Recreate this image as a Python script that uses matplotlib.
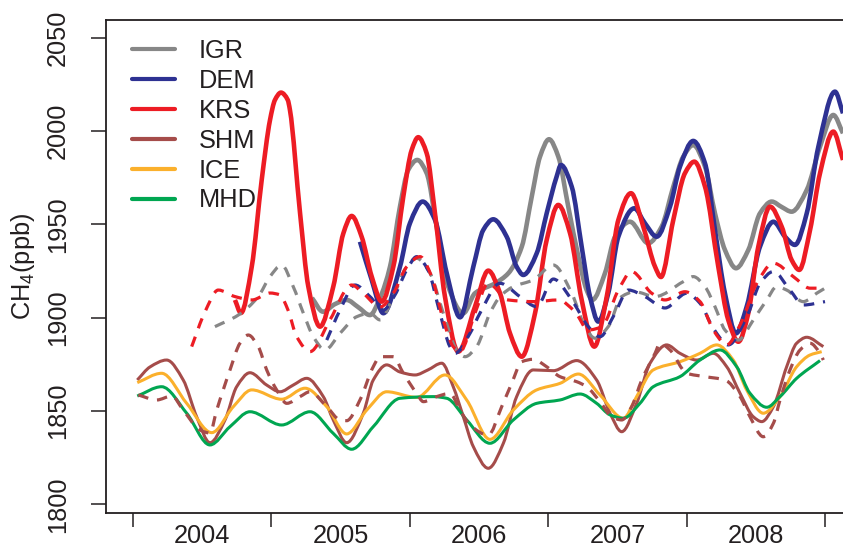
import matplotlib
matplotlib.use("Agg")
import matplotlib.pyplot as plt
from matplotlib.path import Path
from matplotlib.patches import PathPatch
from matplotlib.lines import Line2D

plt.rcParams['font.family'] = ['Liberation Sans', 'DejaVu Sans']
plt.rcParams['mathtext.fontset'] = 'custom'
plt.rcParams['mathtext.rm'] = 'Liberation Sans'
plt.rcParams['mathtext.it'] = 'Liberation Sans:italic'

# ---------------- data (decimal year, CH4 ppb) ----------------
igr_t = [2005.293, 2005.373, 2005.460, 2005.544, 2005.626, 2005.712, 2005.785, 2005.857, 2005.929, 2005.989,
         2006.054, 2006.122, 2006.194, 2006.278, 2006.387, 2006.471, 2006.616, 2006.712, 2006.809, 2006.881,
         2006.941, 2007.006, 2007.073, 2007.145, 2007.218, 2007.278, 2007.319, 2007.410, 2007.483, 2007.591,
         2007.723, 2007.820, 2007.904, 2007.976, 2008.048, 2008.133, 2008.205, 2008.277, 2008.357, 2008.446,
         2008.530, 2008.615, 2008.687, 2008.759, 2008.868, 2008.964, 2009.060, 2009.130]
igr_v = [1910.6, 1903.2, 1907.3, 1909.5, 1905.7, 1901.4, 1910.6, 1927.3, 1959.5, 1979.2,
         1984.5, 1977.4, 1948.8, 1916.6, 1902.4, 1913.1, 1918.4, 1923.8, 1938.0, 1964.8,
         1986.3, 1995.6, 1986.3, 1959.5, 1932.7, 1914.8, 1909.5, 1923.8, 1943.4, 1951.4,
         1939.9, 1948.8, 1970.2, 1986.3, 1992.5, 1980.9, 1955.9, 1936.3, 1926.5, 1936.3,
         1955.9, 1962.2, 1959.3, 1956.8, 1968.4, 1991.6, 2008.6, 1998.8]

dem_t = [2005.640, 2005.725, 2005.809, 2005.929, 2006.001, 2006.093, 2006.182, 2006.267, 2006.363, 2006.459,
         2006.531, 2006.603, 2006.700, 2006.772, 2006.820, 2006.917, 2006.989, 2007.061, 2007.092, 2007.170,
         2007.242, 2007.302, 2007.362, 2007.434, 2007.507, 2007.622, 2007.699, 2007.784, 2007.880, 2007.952,
         2008.048, 2008.133, 2008.205, 2008.277, 2008.357, 2008.434, 2008.530, 2008.627, 2008.711, 2008.783,
         2008.868, 2008.952, 2009.072, 2009.130]
dem_v = [1940.7, 1920.2, 1902.4, 1927.3, 1950.6, 1962.2, 1952.4, 1923.8, 1900.2, 1927.3,
         1947.0, 1952.7, 1943.4, 1927.3, 1922.9, 1934.5, 1955.9, 1975.6, 1981.8, 1970.2,
         1938.0, 1911.3, 1897.9, 1913.1, 1943.4, 1958.6, 1950.6, 1943.4, 1959.5, 1980.9,
         1994.7, 1982.7, 1947.0, 1913.1, 1891.6, 1905.9, 1938.0, 1951.4, 1943.4, 1939.0,
         1955.9, 1991.6, 2021.1, 2009.5]

krs_t = [2004.737, 2004.780, 2004.858, 2004.930, 2004.990, 2005.026, 2005.069, 2005.118, 2005.134, 2005.207,
         2005.267, 2005.351, 2005.447, 2005.520, 2005.580, 2005.652, 2005.725, 2005.797, 2005.881, 2005.953,
         2006.014, 2006.061, 2006.122, 2006.182, 2006.254, 2006.350, 2006.471, 2006.567, 2006.652, 2006.724,
         2006.809, 2006.905, 2006.989, 2007.073, 2007.158, 2007.242, 2007.333, 2007.423, 2007.507, 2007.598,
         2007.687, 2007.772, 2007.815, 2007.904, 2007.988, 2008.056, 2008.133, 2008.229, 2008.301, 2008.374,
         2008.446, 2008.518, 2008.603, 2008.687, 2008.759, 2008.814, 2008.892, 2008.964, 2009.060, 2009.130]
krs_v = [1909.5, 1902.5, 1927.3, 1973.8, 2005.9, 2016.7, 2020.6, 2016.7, 2011.3, 1956.1,
         1916.6, 1895.2, 1916.6, 1945.2, 1954.5, 1943.4, 1922.0, 1908.6, 1927.3, 1964.8,
         1989.9, 1996.7, 1988.1, 1955.9, 1911.3, 1881.8, 1905.9, 1925.2, 1913.1, 1891.6,
         1879.1, 1902.4, 1941.6, 1960.4, 1945.2, 1909.5, 1884.5, 1911.3, 1952.4, 1966.7,
         1948.8, 1927.3, 1921.8, 1952.4, 1977.4, 1983.6, 1970.2, 1927.3, 1898.8, 1887.1,
         1902.4, 1938.0, 1959.5, 1948.8, 1930.9, 1925.6, 1947.0, 1977.4, 1999.7, 1984.5]

shm_t = [2004.031, 2004.123, 2004.243, 2004.363, 2004.460, 2004.556, 2004.665, 2004.749, 2004.845, 2004.966,
         2005.062, 2005.158, 2005.255, 2005.375, 2005.447, 2005.544, 2005.664, 2005.736, 2005.833, 2005.929,
         2006.038, 2006.131, 2006.231, 2006.314, 2006.387, 2006.459, 2006.567, 2006.676, 2006.772, 2006.892,
         2007.037, 2007.206, 2007.350, 2007.447, 2007.531, 2007.639, 2007.736, 2007.856, 2007.952, 2008.073,
         2008.193, 2008.290, 2008.386, 2008.482, 2008.543, 2008.627, 2008.723, 2008.795, 2008.868, 2008.988]
shm_v = [1866.6, 1873.6, 1877.3, 1866.6, 1846.9, 1833.0, 1845.2, 1863.0, 1870.5, 1863.9,
         1860.3, 1863.9, 1867.5, 1857.7, 1845.2, 1833.0, 1848.8, 1866.6, 1874.7, 1870.9,
         1869.3, 1872.0, 1875.6, 1863.0, 1846.9, 1830.9, 1819.3, 1832.7, 1857.7, 1872.0,
         1871.6, 1877.0, 1866.6, 1848.8, 1838.9, 1854.1, 1875.6, 1885.4, 1880.9, 1877.3,
         1880.9, 1873.7, 1859.5, 1846.9, 1844.3, 1852.3, 1873.7, 1886.3, 1889.5, 1884.5]

ice_t = [2004.031, 2004.207, 2004.388, 2004.569, 2004.725, 2004.858, 2005.074, 2005.243, 2005.400, 2005.544,
         2005.689, 2005.833, 2006.050, 2006.254, 2006.411, 2006.579, 2006.748, 2006.917, 2007.085, 2007.218,
         2007.374, 2007.543, 2007.639, 2007.759, 2007.952, 2008.097, 2008.218, 2008.337, 2008.434, 2008.554,
         2008.675, 2008.795, 2008.892, 2008.976]
ice_v = [1865.2, 1870.2, 1854.1, 1838.4, 1852.3, 1861.3, 1856.3, 1862.2, 1852.3, 1837.7,
         1850.5, 1860.3, 1857.3, 1869.3, 1855.9, 1834.8, 1850.5, 1861.3, 1864.8, 1869.8,
         1858.6, 1846.1, 1857.7, 1872.0, 1876.4, 1880.9, 1885.4, 1877.3, 1861.3, 1848.8,
         1857.7, 1873.7, 1880.0, 1881.8]

mhd_t = [2004.031, 2004.207, 2004.388, 2004.556, 2004.701, 2004.845, 2005.074, 2005.279, 2005.447, 2005.580,
         2005.736, 2005.929, 2006.170, 2006.267, 2006.411, 2006.579, 2006.748, 2006.917, 2007.085, 2007.230,
         2007.350, 2007.447, 2007.543, 2007.663, 2007.759, 2007.952, 2008.097, 2008.241, 2008.362, 2008.458,
         2008.579, 2008.675, 2008.795, 2008.964]
mhd_v = [1858.0, 1863.0, 1848.8, 1831.8, 1841.6, 1849.6, 1842.5, 1849.6, 1838.0, 1829.5,
         1841.6, 1856.8, 1857.7, 1856.8, 1845.2, 1832.7, 1845.2, 1854.1, 1855.9, 1859.1,
         1854.1, 1847.9, 1846.1, 1854.1, 1863.0, 1868.4, 1877.3, 1882.7, 1873.7, 1859.5,
         1852.0, 1857.7, 1867.5, 1877.0]

# dashed companions
igr_d_t = [2004.592, 2004.761, 2004.905, 2004.990, 2005.074, 2005.158, 2005.231, 2005.303, 2005.387, 2005.496,
           2005.616, 2005.712, 2005.785, 2005.881, 2005.978, 2006.050, 2006.146, 2006.242, 2006.339, 2006.399,
           2006.483, 2006.579, 2006.652, 2006.748, 2006.892, 2007.037, 2007.170, 2007.266, 2007.338, 2007.434,
           2007.531, 2007.627, 2007.772, 2007.976, 2008.048, 2008.133, 2008.205, 2008.277, 2008.374, 2008.482,
           2008.579, 2008.651, 2008.723, 2008.843, 2008.940, 2009.000]
igr_d_v = [1895.2, 1901.4, 1911.3, 1922.0, 1928.2, 1916.6, 1902.4, 1889.8, 1882.7, 1891.6,
           1900.5, 1902.4, 1898.8, 1911.3, 1927.3, 1931.8, 1923.8, 1902.4, 1882.7, 1879.1,
           1884.5, 1902.4, 1911.3, 1916.6, 1920.2, 1928.2, 1913.1, 1895.2, 1889.0, 1895.2,
           1911.3, 1913.9, 1911.3, 1919.3, 1922.0, 1916.6, 1905.9, 1893.4, 1888.0, 1898.8,
           1909.5, 1916.6, 1914.8, 1908.6, 1913.1, 1915.8]

dem_d_t = [2005.400, 2005.496, 2005.604, 2005.712, 2005.809, 2005.893, 2005.978, 2006.050, 2006.131, 2006.218,
           2006.290, 2006.327, 2006.435, 2006.507, 2006.652, 2006.796, 2006.917, 2007.037, 2007.170, 2007.290,
           2007.374, 2007.483, 2007.579, 2007.699, 2007.844, 2008.001, 2008.097, 2008.193, 2008.301, 2008.446,
           2008.530, 2008.627, 2008.747, 2008.843, 2009.000]
dem_d_v = [1888.0, 1904.1, 1917.5, 1911.3, 1904.1, 1912.2, 1925.6, 1932.7, 1925.6, 1902.4,
           1884.5, 1880.9, 1891.6, 1902.4, 1918.4, 1911.3, 1905.9, 1920.7, 1909.5, 1895.2,
           1889.8, 1902.4, 1914.8, 1911.3, 1905.2, 1913.1, 1907.7, 1894.3, 1885.4, 1902.4,
           1918.4, 1924.7, 1914.8, 1906.8, 1908.6]

krs_d_t = [2004.424, 2004.520, 2004.616, 2004.737, 2004.860, 2004.990, 2005.062, 2005.120, 2005.183, 2005.279,
           2005.423, 2005.580, 2005.664, 2005.785, 2005.881, 2005.978, 2006.074, 2006.158, 2006.242, 2006.314,
           2006.363, 2006.471, 2006.567, 2006.710, 2006.905, 2007.073, 2007.194, 2007.290, 2007.387, 2007.507,
           2007.603, 2007.748, 2007.844, 2007.988, 2008.097, 2008.193, 2008.290, 2008.386, 2008.507, 2008.627,
           2008.771, 2008.892, 2009.000]
krs_d_v = [1884.5, 1903.1, 1914.8, 1911.3, 1909.5, 1913.2, 1912.2, 1904.1, 1889.8, 1881.8,
           1898.8, 1917.5, 1913.1, 1905.7, 1913.1, 1927.3, 1932.7, 1922.0, 1898.8, 1884.5,
           1881.8, 1902.4, 1918.4, 1909.5, 1908.6, 1909.5, 1903.1, 1893.4, 1895.2, 1914.8,
           1924.7, 1913.1, 1909.5, 1913.9, 1908.6, 1893.4, 1885.4, 1896.1, 1918.4, 1929.2,
           1922.0, 1915.8, 1915.8]

shm_d_t = [2004.038, 2004.171, 2004.280, 2004.363, 2004.484, 2004.556, 2004.605, 2004.701, 2004.773, 2004.833,
           2004.905, 2004.966, 2005.038, 2005.111, 2005.207, 2005.279, 2005.400, 2005.496, 2005.544, 2005.640,
           2005.736, 2005.785, 2005.881, 2005.953, 2006.050, 2006.098, 2006.194, 2006.290, 2006.363, 2006.435,
           2006.567, 2006.664, 2006.736, 2006.809, 2006.892, 2006.989, 2007.085, 2007.206, 2007.278, 2007.374,
           2007.461, 2007.531, 2007.603, 2007.676, 2007.772, 2007.808, 2007.880, 2008.001, 2008.133, 2008.277,
           2008.386, 2008.458, 2008.554, 2008.627, 2008.675, 2008.747, 2008.820, 2008.892, 2008.964, 2008.988]
shm_d_v = [1858.6, 1855.9, 1858.0, 1850.5, 1839.8, 1838.2, 1850.5, 1872.0, 1886.3, 1890.7,
           1884.5, 1872.0, 1861.3, 1854.1, 1857.7, 1860.3, 1852.3, 1845.2, 1844.8, 1855.9,
           1873.7, 1879.1, 1879.1, 1870.2, 1859.4, 1855.0, 1857.7, 1859.4, 1850.5, 1842.5,
           1837.1, 1852.3, 1864.8, 1876.4, 1877.7, 1873.7, 1868.4, 1865.7, 1863.0, 1855.0,
           1846.8, 1845.2, 1852.3, 1866.6, 1880.9, 1886.3, 1882.7, 1870.2, 1868.4, 1866.6,
           1857.7, 1846.9, 1836.2, 1843.4, 1855.9, 1872.0, 1882.7, 1886.3, 1880.9, 1877.3]

station_names = ["IGR", "DEM", "KRS", "SHM", "ICE", "MHD"]
year_ticks = [2004, 2005, 2006, 2007, 2008, 2009]
year_labels = ["2004", "2005", "2006", "2007", "2008"]
y_ticks = [1800, 1850, 1900, 1950, 2000, 2050]

# ---------------- style ----------------
C_IGR = "#878787"
C_DEM = "#2e3192"
C_KRS = "#ed1c24"
C_SHM = "#a54c4a"
C_ICE = "#fbb02c"
C_MHD = "#00a651"
TXT = "#231f20"
FS = 18.3


def smooth_path(t, v):
    """Smooth (monotone cubic Bezier) path running through the data points."""
    n = len(t)
    d = [(v[i + 1] - v[i]) / (t[i + 1] - t[i]) for i in range(n - 1)]
    m = [0.0] * n
    m[0] = d[0]
    m[-1] = d[-1]
    for i in range(1, n - 1):
        if d[i - 1] * d[i] <= 0:
            m[i] = 0.0
        else:
            h0 = t[i] - t[i - 1]
            h1 = t[i + 1] - t[i]
            w1 = 2 * h1 + h0
            w2 = h1 + 2 * h0
            m[i] = (w1 + w2) / (w1 / d[i - 1] + w2 / d[i])
    verts = [(t[0], v[0])]
    codes = [Path.MOVETO]
    for i in range(n - 1):
        h = t[i + 1] - t[i]
        verts += [(t[i] + h / 3, v[i] + m[i] * h / 3),
                  (t[i + 1] - h / 3, v[i + 1] - m[i + 1] * h / 3),
                  (t[i + 1], v[i + 1])]
        codes += [Path.CURVE4] * 3
    return Path(verts, codes)


fig = plt.figure(figsize=(8.43, 5.52), dpi=100)
ax = fig.add_axes([106 / 843, (552 - 512.7) / 552, 779 / 843, 492.7 / 552])

LW_THICK = 3.3
LW_THIN = 2.2
LW_DASH = 2.3
dash = (0, (3.3, 2.8))

solid = [
    (igr_t, igr_v, C_IGR, LW_THICK),
    (dem_t, dem_v, C_DEM, LW_THICK),
    (krs_t, krs_v, C_KRS, LW_THICK),
    (shm_t, shm_v, C_SHM, LW_THIN),
    (ice_t, ice_v, C_ICE, LW_THIN),
    (mhd_t, mhd_v, C_MHD, LW_THIN),
]
for t, v, c, lw in solid:
    ax.add_patch(PathPatch(smooth_path(t, v), fill=False, edgecolor=c, lw=lw,
                           joinstyle='round', capstyle='butt'))

dashed = [
    (igr_d_t, igr_d_v, C_IGR),
    (dem_d_t, dem_d_v, C_DEM),
    (krs_d_t, krs_d_v, C_KRS),
    (shm_d_t, shm_d_v, C_SHM),
]
for t, v, c in dashed:
    ax.add_patch(PathPatch(smooth_path(t, v), fill=False, edgecolor=c, lw=LW_DASH,
                           linestyle=dash, joinstyle='round', capstyle='butt'))

# axes limits: right border lies beyond the figure edge
ax.set_xlim(2003.805, 2009.4335)
ax.set_ylim(1795.5, 2059.5)

for s in ax.spines.values():
    s.set_linewidth(1.3)
    s.set_color(TXT)

ax.set_xticks(year_ticks)
ax.set_xticklabels([])
ax.set_xticks([y + 0.5 for y in year_ticks[:-1]], minor=True)
ax.set_xticklabels(year_labels, minor=True)
ax.tick_params(axis='x', which='major', direction='out', length=10.3, width=1.1, color=TXT)
ax.tick_params(axis='x', which='minor', length=0, pad=8, labelsize=FS, labelcolor=TXT)

ax.set_yticks(y_ticks)
ax.set_yticklabels([str(v) for v in y_ticks], rotation=90, va='center')
ax.tick_params(axis='y', which='major', direction='out', length=10.8, width=1.1, color=TXT,
               pad=15, labelsize=FS, labelcolor=TXT)

fig.text(23 / 843, (552 - 266) / 552, r"CH$_{\mathrm{4}}$(ppb)", rotation=90, ha='center', va='center',
         fontsize=FS, color=TXT)

handles = [Line2D([], [], color=c, lw=3.0, solid_capstyle='round') for (_, _, c, _) in solid]
leg = ax.legend(handles, station_names, loc='upper left', bbox_to_anchor=(0.0335, 0.961), frameon=False,
                fontsize=FS, handlelength=1.68, handletextpad=0.93, labelspacing=0.23,
                borderaxespad=0, borderpad=0)
for txt in leg.get_texts():
    txt.set_color(TXT)

fig.savefig("out.png", dpi=100)
